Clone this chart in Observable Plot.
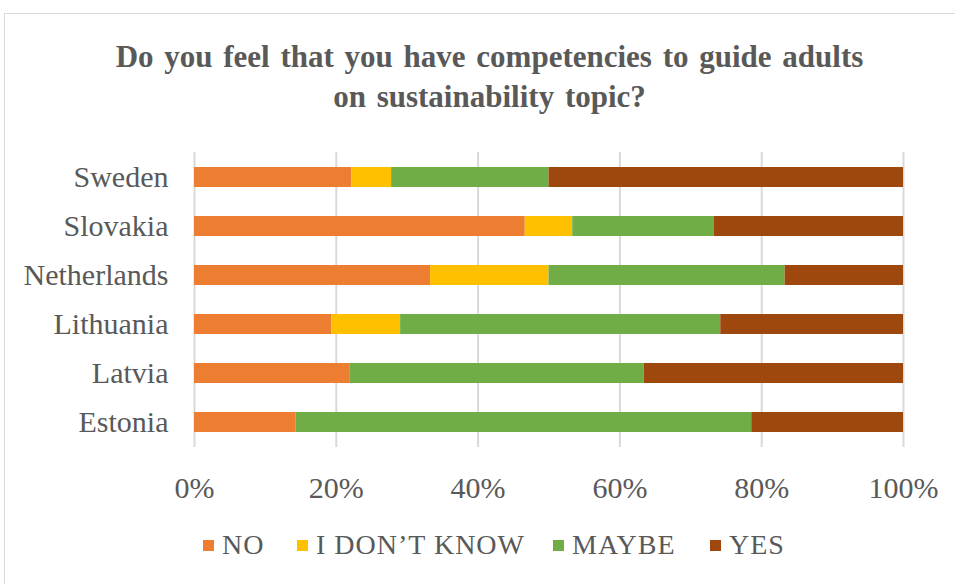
<!DOCTYPE html>
<html>
<head>
<meta charset="utf-8">
<script src="https://cdn.jsdelivr.net/npm/d3@7"></script>
<script src="https://cdn.jsdelivr.net/npm/@observablehq/plot@0.6"></script>
<style>
  html, body { margin: 0; padding: 0; background: #fff; }
  body { width: 955px; height: 584px; overflow: hidden; position: relative; font-family: "Liberation Serif", "Times New Roman", serif; color: #595959; }
  #frame { position: absolute; left: 4px; top: 13px; width: 1000px; height: 700px; border: 1.5px solid #d9d9d9; box-sizing: border-box; }
  #title { position: absolute; left: 0; top: 37px; width: 979px; text-align: center; font-weight: bold; font-size: 31px; line-height: 40px; word-spacing: 3px; color: #595959; }
  #chart { position: absolute; left: 0; top: 0; }
  #legend { position: absolute; left: 0; top: 530px; width: 955px; height: 30px; font-size: 28px; line-height: 30px; letter-spacing: 1px; color: #595959; }
  #legend .item { position: absolute; top: 0; display: flex; align-items: center; white-space: nowrap; }
  #legend .sw { width: 11px; height: 11px; margin-right: 8px; }
</style>
</head>
<body>
<div id="frame"></div>
<div id="chart"></div>
<div id="title">Do you feel that you have competencies to guide adults<br>on sustainability topic?</div>
<div id="legend"></div>
<script>
const countries = ["Sweden", "Slovakia", "Netherlands", "Lithuania", "Latvia", "Estonia"];
const answers = ["NO", "I DON’T KNOW", "MAYBE", "YES"];
const colors = ["#ED7D31", "#FFC000", "#70AD47", "#9E480E"];
const noVals    = [22.2, 46.7, 33.3, 19.4, 22.0, 14.3];
const idkVals   = [5.6, 6.7, 16.7, 9.7, 0, 0];
const maybeVals = [22.2, 20.0, 33.3, 45.2, 41.5, 64.3];
const yesVals   = [50.0, 26.7, 16.7, 25.8, 36.6, 21.4];
const xTicks = [0, 0.2, 0.4, 0.6, 0.8, 1];

const series = [noVals, idkVals, maybeVals, yesVals];
const data = [];
countries.forEach((c, i) => {
  answers.forEach((a, j) => {
    data.push({country: c, answer: a, value: series[j][i]});
  });
});

const chart = Plot.plot({
  width: 955,
  height: 584,
  marginLeft: 194,
  marginRight: 52,
  marginTop: 152,
  marginBottom: 137,
  style: {fontFamily: "'Liberation Serif', 'Times New Roman', serif", fontSize: "30px", color: "#595959", background: "transparent"},
  x: {domain: [0, 1], ticks: xTicks, tickFormat: d3.format(".0%"), label: null},
  y: {domain: countries, paddingInner: 0.6, paddingOuter: 0.3, label: null},
  color: {domain: answers, range: colors},
  marks: [
    Plot.gridX(xTicks, {stroke: "#d9d9d9", strokeOpacity: 1, strokeWidth: 2}),
    Plot.barX(data, Plot.stackX({x: "value", y: "country", fill: "answer", offset: "normalize", order: null})),
    Plot.axisX({ticks: xTicks, tickFormat: d3.format(".0%"), tickSize: 0, tickPadding: 29, label: null, fill: "#595959"}),
    Plot.axisY({tickSize: 0, tickPadding: 26, label: null, fill: "#595959"})
  ]
});
document.getElementById("chart").appendChild(chart);

const legendLefts = [203, 297, 553, 710];
const legend = document.getElementById("legend");
answers.forEach((a, j) => {
  const item = document.createElement("div");
  item.className = "item";
  item.style.left = legendLefts[j] + "px";
  const sw = document.createElement("span");
  sw.className = "sw";
  sw.style.background = colors[j];
  const t = document.createElement("span");
  t.textContent = a;
  item.appendChild(sw);
  item.appendChild(t);
  legend.appendChild(item);
});
</script>
</body>
</html>
